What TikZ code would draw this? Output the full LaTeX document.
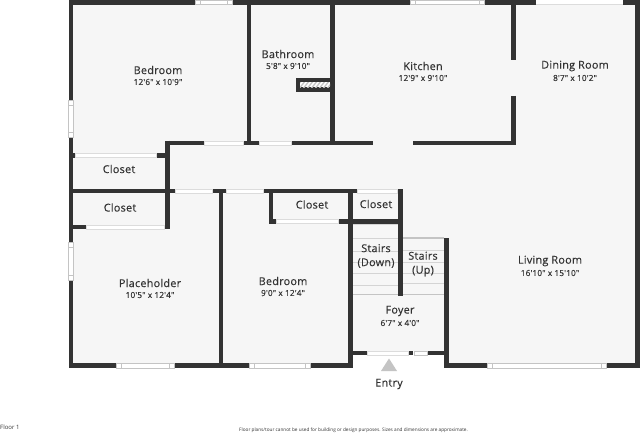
\documentclass[tikz,border=0pt]{standalone}
\usepackage{fontspec}
\setmainfont{Open Sans}
\newfontfamily\roomfont[FakeBold=0.35,LetterSpace=2.5]{Open Sans}
\newfontfamily\dimfont[FakeBold=0.2,LetterSpace=1.5]{Open Sans}
\definecolor{wallc}{HTML}{333333}
\definecolor{floorc}{HTML}{F6F6F6}
\definecolor{edgec}{HTML}{C4C4C4}
\definecolor{tread}{HTML}{D4D4D4}
\definecolor{txt}{HTML}{333333}
\tikzset{
  wall/.style={draw=wallc,line width=4.6pt,line cap=butt},
  tread line/.style={draw=tread,line width=.8pt},
  room/.style={text=txt,font=\roomfont\fontsize{10.8pt}{14pt}\selectfont,inner sep=0pt,align=center},
  dim/.style={text=txt,font=\dimfont\fontsize{8.3pt}{9pt}\selectfont,inner sep=0pt},
}
% horizontal window: x1,x2,y
\newcommand\winh[3]{%
  \fill[white] (#1,#3-2.4) rectangle (#2,#3+2.4);
  \draw[edgec,line width=.6pt] (#1,#3-2.3) rectangle (#2,#3+2.3);
  \draw[edgec,line width=.8pt] (#1+5,#3-2.3) rectangle (#2-5,#3+2.3);}
% vertical window: x,y1,y2
\newcommand\winv[3]{%
  \fill[white] (#1-2.4,#2) rectangle (#1+2.4,#3);
  \draw[edgec,line width=.6pt] (#1-2.3,#2) rectangle (#1+2.3,#3);
  \draw[edgec,line width=.8pt] (#1-2.3,#2+5) rectangle (#1+2.3,#3-5);}
% door opening: x1,x2,y
\newcommand\doorh[3]{\draw[edgec!60,line width=.5pt,fill=white] (#1,#3-2) rectangle (#2,#3+2);}
\begin{document}
\begin{tikzpicture}[x=1pt,y=-1pt]
\useasboundingbox (0,0) rectangle (640,433);
\fill[white] (0,0) rectangle (640,433);
% floor
\fill[floorc] (71,2) -- (637,2) -- (637,366) -- (446,366) -- (446,353) -- (350,353) -- (350,366) -- (71,366) -- cycle;
% stair treads
\foreach \y in {224,238,251,262,273,285} \draw[tread line] (352,\y) -- (398,\y);
\foreach \y in {250,262,273,283} \draw[tread line] (402,\y) -- (444,\y);
\draw[edgec,line width=1.4pt] (402,238) -- (444,238);
\draw[edgec,line width=.9pt] (352,294) -- (444,294);
% outer walls
\draw[wall] (69,2.3) -- (195,2.3);
\draw[wall] (232,2.3) -- (410,2.3);
\draw[wall] (484,2.3) -- (536,2.3);
\draw[wall] (623,2.3) -- (639.5,2.3);
\draw[wall] (637.2,0) -- (637.2,368);
\draw[wall] (71,0) -- (71,100);
\draw[wall] (71,137) -- (71,242);
\draw[wall] (71,280) -- (71,368);
\draw[wall] (69,365.6) -- (116,365.6);
\draw[wall] (174,365.6) -- (249,365.6);
\draw[wall] (310,365.6) -- (352.7,365.6);
\draw[wall] (444,365.6) -- (487,365.6);
\draw[wall] (606,365.6) -- (639.5,365.6);
% inner walls
\draw[wall] (249,0) -- (249,143);
\draw[wall] (332.2,0) -- (332.2,143);
\draw[wall] (165.4,143) -- (204,143);
\draw[wall] (243,143) -- (259,143);
\draw[wall] (291,143) -- (373,143);
\draw[wall] (413,143) -- (515.5,143);
\draw[wall] (513.2,0) -- (513.2,60);
\draw[wall] (513.2,96) -- (513.2,145.3);
\draw[wall] (167.7,140.7) -- (167.7,229);
\draw[wall] (156,155.5) -- (166,155.5);
\draw[wall] (71,155.5) -- (75,155.5);
\draw[wall] (71,191) -- (175,191);
\draw[wall] (212,191) -- (226,191);
\draw[wall] (263,191) -- (357,191);
\draw[wall] (71,227) -- (86,227);
\draw[wall] (164,227) -- (170,227);
\draw[wall] (221,189) -- (221,368);
\draw[wall] (271,189) -- (271,223.3);
\draw[wall] (269,221.2) -- (276,221.2);
\draw[wall] (338,221.2) -- (350,221.2);
\draw[wall] (350.5,189) -- (350.5,368);
\draw[wall] (350,221.2) -- (400,221.2);
\draw[wall] (400.3,189) -- (400.3,296);
\draw[wall] (397,191) -- (402.6,191);
\draw[wall] (446.3,238) -- (446.3,368);
\draw[wall] (350,353) -- (367,353);
\draw[wall] (408,353) -- (413,353);
\draw[wall] (428,353) -- (446,353);
% bathroom chase
\fill[wallc] (296,78) rectangle (332,92.3);
\fill[white] (300,82.3) rectangle (330,87.5);
\begin{scope}
\clip (300,82.3) rectangle (330,87.5);
\foreach \x in {290,294,...,334} \draw[edgec,line width=1.3pt] (\x,90) -- (\x+8,80);
\end{scope}
% windows
\winh{195}{232}{2.3}
\winh{410}{484}{2.3}
\winh{116}{174}{365.6}
\winh{249}{310}{365.6}
\winh{487}{606}{365.6}
\fill[white] (413,351) rectangle (428,355.2);
\draw[edgec,line width=.7pt] (414,351) rectangle (427,355.2);
\winv{71}{100}{137}
\winv{71}{242}{280}
% door openings
\fill[white] (536,0) rectangle (623,4.6);
\draw[edgec!60,line width=.4pt] (536,4.6) -- (623,4.6);
\doorh{204}{243}{143}
\doorh{259}{291}{143}
\doorh{75}{156}{155.5}
\doorh{175}{212}{191}
\doorh{226}{263}{191}
\doorh{86}{164}{227}
\doorh{276}{338}{221.2}
\doorh{357}{397}{191}
\doorh{367}{408}{353}
% entry marker
\fill[edgec] (381,371) -- (389,358.5) -- (397,371) -- cycle;
% labels
\node[room] (n1) at (158,70) {Bedroom};
\node[dim] (d1) at (158,82) {12'6" x 10'9"};
\node[room] (n2) at (288,54) {Bathroom};
\node[dim] (d2) at (288,66) {5'8" x 9'10"};
\node[room] (n3) at (423,66) {Kitchen};
\node[dim] (d3) at (423,78) {12'9" x 9'10"};
\node[room] (n4) at (575,66) {Dining Room};
\node[dim] (d4) at (575,78) {8'7" x 10'2"};
\node[room] (n5) at (119,169) {Closet};
\node[room] (n6) at (120,207.5) {Closet};
\node[room] (n7) at (150,283) {Placeholder};
\node[dim] (d7) at (150,295) {10'5" x 12'4"};
\node[room] (n8) at (283,281) {Bedroom};
\node[dim] (d8) at (283,293) {9'0" x 12'4"};
\node[room] (n9) at (312,204.5) {Closet};
\node[room] (n10) at (376,204) {Closet};
\node[room] (n11) at (376,256) {Stairs\\(Down)};
\node[room] (n12) at (423,264) {Stairs\\(Up)};
\node[room] (n13) at (400,311) {Foyer};
\node[dim] (d13) at (400,323) {6'7" x 4'0"};
\node[room] (n14) at (550,261) {Living Room};
\node[dim] (d14) at (550,273) {16'10" x 15'10"};
\node[room] (n15) at (389,384) {Entry};
\node[text=txt,font=\fontsize{6pt}{7pt}\selectfont,inner sep=0pt,anchor=west] (n16) at (0,427.5) {Floor 1};
\node[text=txt,font=\fontsize{4.7pt}{5pt}\selectfont,inner sep=0pt] (n17) at (353.5,430) {Floor plans/tour cannot be used for building or design purposes. Sizes and dimensions are approximate.};
\end{tikzpicture}
\end{document}
